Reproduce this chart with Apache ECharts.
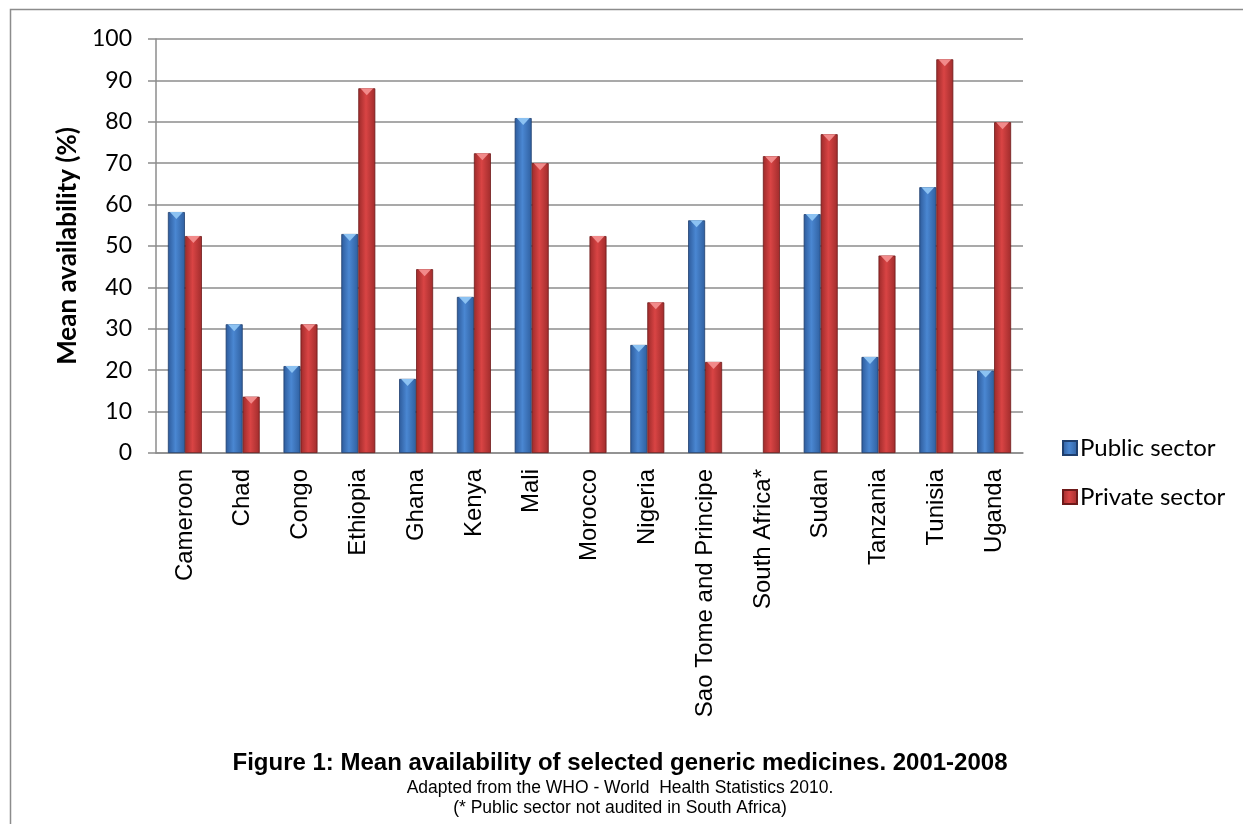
<!DOCTYPE html>
<html>
<head>
<meta charset="utf-8">
<script src="https://cdn.jsdelivr.net/npm/echarts@6/dist/echarts.min.js"></script>
<style>
  html, body { margin: 0; padding: 0; background: #ffffff; }
  #chart { width: 1243px; height: 824px; }
</style>
</head>
<body>
<div id="chart"></div>
<script>
// Countries on the category axis
const countries = ['Cameroon', 'Chad', 'Congo', 'Ethiopia', 'Ghana', 'Kenya', 'Mali', 'Morocco',
  'Nigeria', 'Sao Tome and Principe', 'South Africa*', 'Sudan', 'Tanzania', 'Tunisia', 'Uganda'];
// Mean availability (%) of selected generic medicines, public sector (null = not audited / no data)
const publicSector = [58.2, 31.1, 21.0, 52.9, 17.9, 37.7, 80.9, null, 26.1, 56.2, null, 57.7, 23.2, 64.2, 19.9];
// Mean availability (%) of selected generic medicines, private sector
const privateSector = [52.4, 13.6, 31.1, 88.1, 44.4, 72.4, 70.0, 52.4, 36.4, 22.0, 71.7, 77.0, 47.7, 95.1, 79.9];
// Value axis ticks
const yTicks = { min: 0, max: 100, interval: 10 };

const BAR_W = 17;
const FONT_UI = 'Lato, "Open Sans", sans-serif';
const FONT_CAP = '"Liberation Sans", Arial, sans-serif';

function shade(dark, mid, light) {
  return new echarts.graphic.LinearGradient(0, 0, 1, 0, [
    { offset: 0, color: dark },
    { offset: 0.45, color: light },
    { offset: 1, color: mid }
  ]);
}
const blueFill = shade('#2d5a9a', '#2f5f9f', '#4a87d2');
const redFill = shade('#9c2a2a', '#a02c2c', '#d94444');

const chart = echarts.init(document.getElementById('chart'), null, { renderer: 'canvas' });

const capX = 620;
chart.setOption({
  backgroundColor: '#ffffff',
  animation: false,
  grid: { left: 156, right: 220, top: 39, bottom: 371 },
  legend: {
    data: ['Public sector', 'Private sector'],
    orient: 'vertical',
    left: 1057,
    top: 431,
    itemWidth: 14,
    itemHeight: 14,
    itemGap: 25,
    icon: 'rect',
    textStyle: { fontFamily: FONT_UI, fontSize: 24, color: '#000', padding: [0, 0, 0, -2] }
  },
  xAxis: {
    type: 'category',
    data: countries,
    axisLine: { lineStyle: { color: '#8c8c8c', width: 1.5 } },
    axisTick: { show: false },
    axisLabel: {
      rotate: 90,
      interval: 0,
      margin: 16,
      color: '#000',
      fontFamily: FONT_CAP,
      fontSize: 24
    }
  },
  yAxis: {
    type: 'value',
    min: yTicks.min,
    max: yTicks.max,
    interval: yTicks.interval,
    name: 'Mean availability (%)',
    nameLocation: 'middle',
    nameGap: 73,
    nameTextStyle: { fontFamily: FONT_UI, fontSize: 26, fontWeight: 'bold', color: '#000' },
    axisLine: { show: true, lineStyle: { color: '#8c8c8c', width: 1.5 } },
    axisTick: { show: true, inside: false, length: 8, lineStyle: { color: '#8c8c8c', width: 1.5 } },
    axisLabel: { margin: 24, color: '#000', fontFamily: FONT_UI, fontSize: 23 },
    splitLine: { lineStyle: { color: '#8c8c8c', width: 1.5 } }
  },
  series: [
    {
      name: 'Public sector',
      type: 'bar',
      data: publicSector,
      barWidth: BAR_W,
      barGap: '0%',
      itemStyle: { color: blueFill, borderColor: '#1f3f6e', borderWidth: 0.8 }
    },
    {
      name: 'Private sector',
      type: 'bar',
      data: privateSector,
      barWidth: BAR_W,
      barGap: '0%',
      itemStyle: { color: redFill, borderColor: '#6e1a1a', borderWidth: 0.8 }
    },
    {
      name: 'public-cap',
      type: 'pictorialBar',
      data: publicSector,
      barWidth: BAR_W,
      barGap: '0%',
      symbol: 'triangle',
      symbolRotate: 180,
      symbolSize: [BAR_W - 4, 7],
      symbolPosition: 'end',
      z: 5,
      itemStyle: { color: '#8cc2f2' },
      silent: true
    },
    {
      name: 'private-cap',
      type: 'pictorialBar',
      data: privateSector,
      barWidth: BAR_W,
      barGap: '0%',
      symbol: 'triangle',
      symbolRotate: 180,
      symbolSize: [BAR_W - 4, 7],
      symbolPosition: 'end',
      z: 5,
      itemStyle: { color: '#f28a8a' },
      silent: true
    }
  ],
  graphic: [
    {
      type: 'rect',
      shape: { x: 10.5, y: 9.5, width: 1250, height: 830 },
      style: { fill: 'none', stroke: '#8c8c8c', lineWidth: 1.5 },
      silent: true
    },
    {
      type: 'text',
      x: capX, y: 763,
      style: {
        text: 'Figure 1: Mean availability of selected generic medicines. 2001-2008',
        font: 'bold 24px ' + FONT_CAP,
        fill: '#000', align: 'center', verticalAlign: 'middle'
      }
    },
    {
      type: 'text',
      x: capX, y: 788,
      style: {
        text: 'Adapted from the WHO - World  Health Statistics 2010.',
        font: '17.5px ' + FONT_CAP,
        fill: '#000', align: 'center', verticalAlign: 'middle'
      }
    },
    {
      type: 'text',
      x: capX, y: 808,
      style: {
        text: '(* Public sector not audited in South Africa)',
        font: '17.5px ' + FONT_CAP,
        fill: '#000', align: 'center', verticalAlign: 'middle'
      }
    }
  ]
});
</script>
</body>
</html>
